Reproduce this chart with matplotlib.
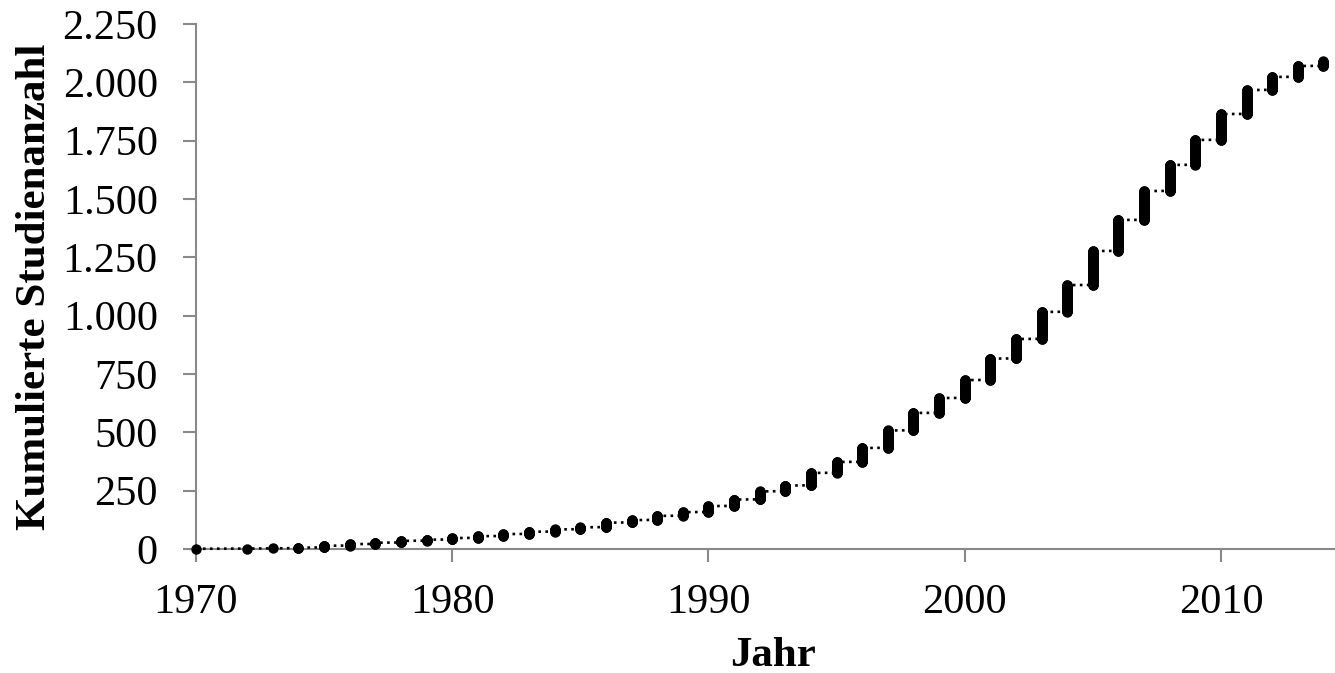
import numpy as np
import matplotlib
matplotlib.use("Agg")
import matplotlib.pyplot as plt
from matplotlib.ticker import FuncFormatter

# years that have studies and the cumulative study count at the end of each year
years = [1970, 1972, 1973, 1974, 1975, 1976, 1977, 1978, 1979, 1980,
         1981, 1982, 1983, 1984, 1985, 1986, 1987, 1988, 1989, 1990,
         1991, 1992, 1993, 1994, 1995, 1996, 1997, 1998, 1999, 2000,
         2001, 2002, 2003, 2004, 2005, 2006, 2007, 2008, 2009, 2010,
         2011, 2012, 2013, 2014]
cum_total = [1, 2, 3, 6, 14, 21, 27, 35, 40, 47,
             55, 64, 74, 84, 93, 113, 124, 142, 158, 184,
             212, 247, 272, 326, 373, 433, 508, 583, 647, 724,
             816, 900, 1016, 1131, 1277, 1410, 1534, 1646, 1753, 1864,
             1967, 2023, 2070, 2090]

y_ticks = [0, 250, 500, 750, 1000, 1250, 1500, 1750, 2000, 2250]
x_ticks = [1970, 1980, 1990, 2000, 2010]

# one point per study: study number n is placed at its publication year
xs, ys = [], []
prev = 0
for yr, tot in zip(years, cum_total):
    for n in range(prev + 1, tot + 1):
        xs.append(yr)
        ys.append(n)
    prev = tot

plt.rcParams['font.family'] = ['Liberation Serif', 'DejaVu Serif']
grey = "#898989"

fig = plt.figure(figsize=(13.35, 6.73), dpi=100)
ax = fig.add_axes([0.1468, 0.1842, 0.8532, 0.7801])

ax.plot(xs, ys, color="black", linestyle=":", linewidth=1.9,
        marker="o", markersize=7.5, markeredgewidth=0, zorder=3, clip_on=False)

ax.set_xlim(1970, 2014.45)
ax.set_ylim(0, 2250)
ax.set_xticks(x_ticks)
ax.set_yticks(y_ticks)
ax.yaxis.set_major_formatter(FuncFormatter(lambda v, p: f"{int(v):,}".replace(",", ".")))

for s in ["top", "right"]:
    ax.spines[s].set_visible(False)
for s in ["left", "bottom"]:
    ax.spines[s].set_color(grey)
    ax.spines[s].set_linewidth(1.5)

ax.tick_params(axis="y", direction="out", length=9.5, width=1.5, color=grey,
               labelsize=30.5, pad=18)
ax.tick_params(axis="x", direction="out", length=9.5, width=1.5, color=grey,
               labelsize=30.5, pad=15)

ax.set_xlabel("Jahr", fontsize=31, fontweight="bold", va="top")
ax.set_ylabel("Kumulierte Studienanzahl", fontsize=31, fontweight="bold")
ax.xaxis.set_label_coords(0.507, -0.168)
ax.yaxis.set_label_coords(-0.125, 0.5)

fig.savefig("out.png", dpi=100)
